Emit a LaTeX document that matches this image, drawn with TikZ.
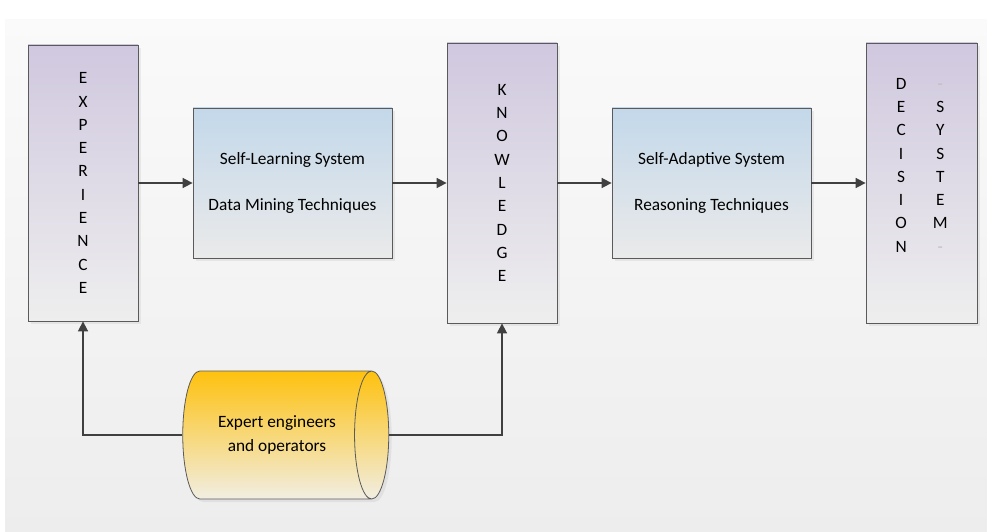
\documentclass[tikz,border=0pt]{standalone}
\usepackage{fontspec}
\setmainfont{Carlito}
\usetikzlibrary{shapes.geometric,shadows,arrows.meta}

\definecolor{lavtop}{HTML}{D0C8DF}
\definecolor{lavbot}{HTML}{EEEEEE}
\definecolor{bluetop}{HTML}{C3D8EA}
\definecolor{bluebot}{HTML}{EAEAEA}
\definecolor{goldtop}{HTML}{FEC10E}
\definecolor{goldbot}{HTML}{F1EEE3}
\definecolor{edgegray}{HTML}{5A5A5A}
\definecolor{linegray}{HTML}{404040}

\begin{document}
\begin{tikzpicture}[x=1pt,y=1pt,
        every node/.style={font=\fontsize{17.3}{23.3}\selectfont,text=black},
        tallbox/.style={draw=edgegray,line width=0.8pt,top color=lavtop,bottom color=lavbot,
            minimum width=110pt,align=center,inner sep=0pt,
            drop shadow={opacity=0.12,shadow xshift=3pt,shadow yshift=-3pt}},
        techbox/.style={draw=edgegray,line width=0.8pt,top color=bluetop,bottom color=bluebot,
            minimum width=199pt,minimum height=150pt,align=center,inner sep=0pt,
            drop shadow={opacity=0.12,shadow xshift=3pt,shadow yshift=-3pt}},
        flow/.style={draw=linegray,line width=1.6pt,-{Triangle[length=10pt,width=10pt]}}]
    \useasboundingbox (0,0) rectangle (987,531);
    \shade[top color=white!98!black,bottom color=black!7] (5,0) rectangle (987,511);

    % tall blocks
    \node[tallbox,minimum height=276pt] (experience) at (83,348)
        {E\\X\\P\\E\\R\\I\\E\\N\\C\\E};
    \node[tallbox,minimum height=280pt] (knowledge) at (502,348)
        {K\\N\\O\\W\\L\\E\\D\\G\\E};
    \node[tallbox,minimum width=111pt,minimum height=280pt] (decision) at (921.5,348) {};
    \node[inner sep=0pt] (decisiontext) at ([yshift=17pt]decision.center)
        {\begin{tabular}{c@{\hspace{26pt}}c}
            D & \textcolor{black!25}{-}\\ E & S\\ C & Y\\ I & S\\
            S & T\\ I & E\\ O & M\\ N & \textcolor{black!25}{-}
        \end{tabular}};

    % technique blocks
    \node[techbox] (learning) at (292.5,348)
        {Self-Learning System\\[23.3pt]Data Mining Techniques};
    \node[techbox] (adaptive) at (711.5,348)
        {Self-Adaptive System\\[23.3pt]Reasoning Techniques};

    % experts store
    \node[cylinder,draw=edgegray,line width=0.8pt,top color=goldtop,bottom color=goldbot,
        minimum height=206pt,minimum width=128pt,aspect=0.9,inner sep=0pt,align=center,
        drop shadow={opacity=0.12,shadow xshift=3pt,shadow yshift=-3pt}]
        (expert) at (277,96) {Expert engineers\\and operators};

    \draw[flow] (experience.east |- learning.west) -- (learning.west);
    \draw[flow] (learning.east) -- (learning.east -| knowledge.west);
    \draw[flow] (knowledge.east |- adaptive.west) -- (adaptive.west);
    \draw[flow] (adaptive.east) -- (adaptive.east -| decision.west);
    \draw[flow] (expert.west) -| (experience.south);
    \draw[flow] (expert.east) -| (knowledge.south);
\end{tikzpicture}
\end{document}
